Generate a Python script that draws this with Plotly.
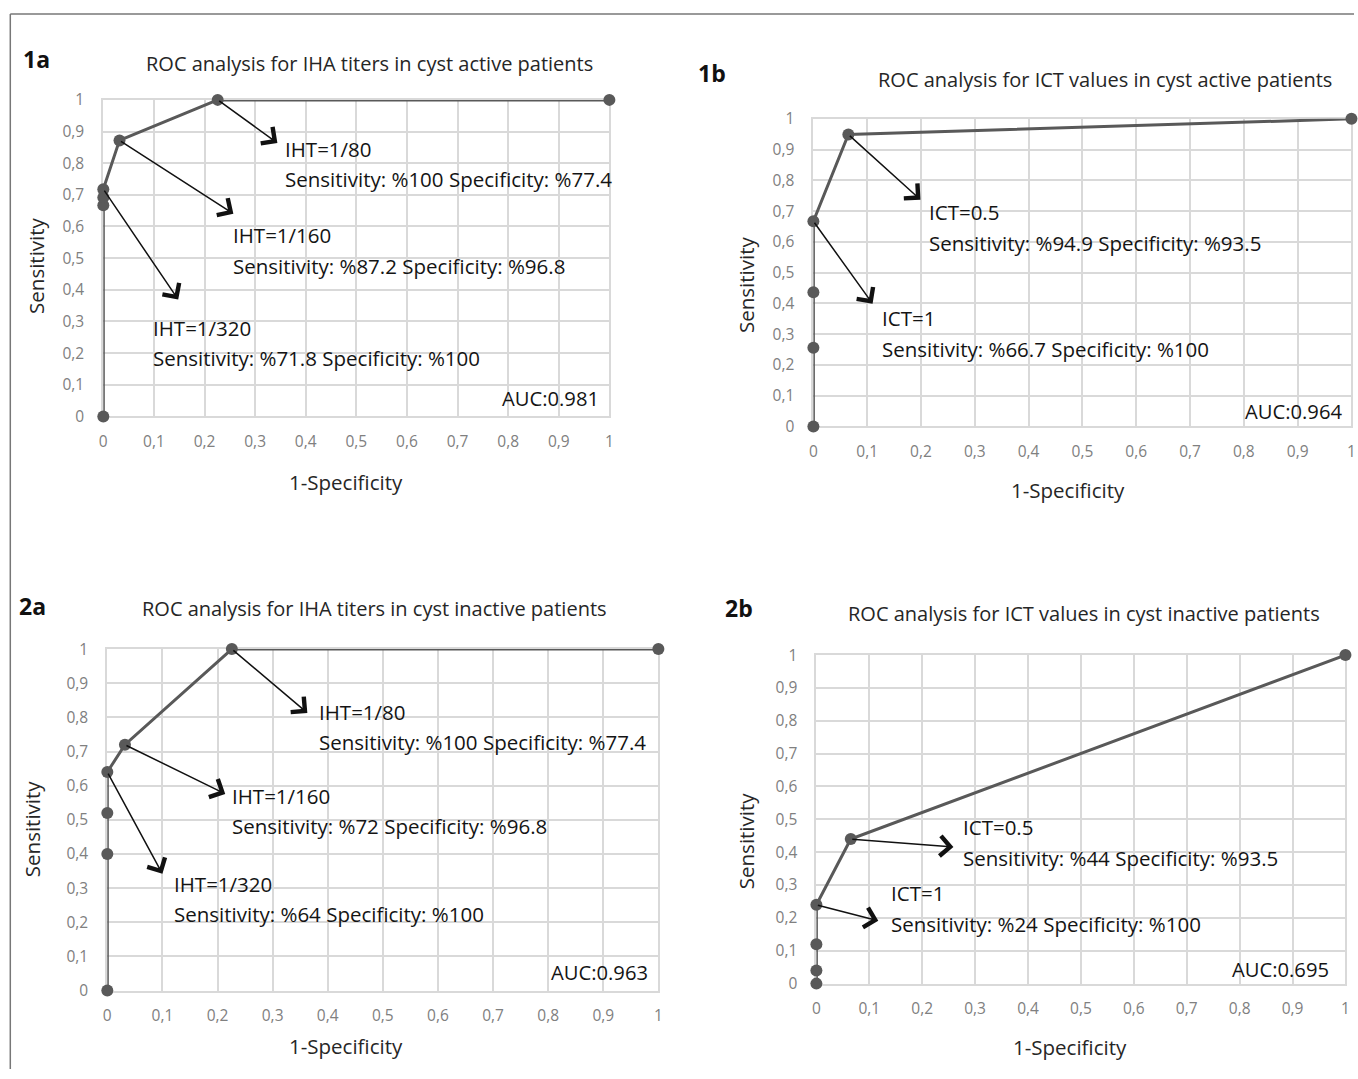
import plotly.graph_objects as go

W, H = 1358, 1079

# ROC points (1-Specificity, Sensitivity) for each panel
fpr_1a = [0, 0, 0, 0, 0.032, 0.226, 1]
tpr_1a = [0, 0.667, 0.692, 0.718, 0.872, 1, 1]
fpr_1b = [0, 0, 0, 0, 0.065, 1]
tpr_1b = [0, 0.256, 0.436, 0.667, 0.949, 1]
fpr_2a = [0, 0, 0, 0, 0.032, 0.226, 1]
tpr_2a = [0, 0.40, 0.52, 0.64, 0.72, 1, 1]
fpr_2b = [0, 0, 0, 0, 0.065, 1]
tpr_2b = [0, 0.04, 0.12, 0.24, 0.44, 1]

titles = [
    "ROC analysis for IHA titers in cyst active patients",
    "ROC analysis for ICT values in cyst active patients",
    "ROC analysis for IHA titers in cyst inactive patients",
    "ROC analysis for ICT values in cyst inactive patients",
]
panel_tags = ["1a", "1b", "2a", "2b"]
auc_labels = ["AUC:0.981", "AUC:0.964", "AUC:0.963", "AUC:0.695"]

# cut-off callouts: (index of labelled point, first line, second line)
cutoffs_1a = [(5, "IHT=1/80", "Sensitivity: %100 Specificity: %77.4"),
              (4, "IHT=1/160", "Sensitivity: %87.2 Specificity: %96.8"),
              (3, "IHT=1/320", "Sensitivity: %71.8 Specificity: %100")]
cutoffs_1b = [(4, "ICT=0.5", "Sensitivity: %94.9 Specificity: %93.5"),
              (3, "ICT=1", "Sensitivity: %66.7 Specificity: %100")]
cutoffs_2a = [(5, "IHT=1/80", "Sensitivity: %100 Specificity: %77.4"),
              (4, "IHT=1/160", "Sensitivity: %72 Specificity: %96.8"),
              (3, "IHT=1/320", "Sensitivity: %64 Specificity: %100")]
cutoffs_2b = [(4, "ICT=0.5", "Sensitivity: %44 Specificity: %93.5"),
              (3, "ICT=1", "Sensitivity: %24 Specificity: %100")]

tick_vals = [0, 0.1, 0.2, 0.3, 0.4, 0.5, 0.6, 0.7, 0.8, 0.9, 1]
tick_text = ["0", "0,1", "0,2", "0,3", "0,4", "0,5", "0,6", "0,7", "0,8", "0,9", "1"]

FONT = "Open Sans"
LINE = "#595959"
GRID = "#d9d9d9"
TICK = "#808080"
TEXT = "#141414"

# plot-area boxes in page pixels: left, right, top, bottom
boxes = [(103, 609, 98, 415), (813, 1351, 117, 425),
         (107, 658, 648, 990), (816, 1345, 654, 983)]

# label placement for each panel (page pixels); arrow heads in data units
panel_text = [
    dict(tag=(21, 57), title=(369, 62), ylab=(35, 264), xlab=(346, 481), auc=(601, 397),
         heads=[(0.344, 0.864), (0.257, 0.640), (0.148, 0.369)],
         txt=[(283, 147, 177), (231, 233, 264), (151, 326, 356)]),
    dict(tag=(696, 71), title=(1105, 78), ylab=(745, 283), xlab=(1068, 489), auc=(1344, 410),
         heads=[(0.199, 0.737), (0.110, 0.399)],
         txt=[(927, 210, 241), (880, 316, 347)]),
    dict(tag=(17, 605), title=(374, 607), ylab=(32, 828), xlab=(346, 1045), auc=(650, 971),
         heads=[(0.363, 0.813), (0.214, 0.576), (0.100, 0.342)],
         txt=[(317, 711, 741), (230, 795, 825), (172, 883, 913)]),
    dict(tag=(723, 607), title=(1084, 612), ylab=(745, 840), xlab=(1070, 1046), auc=(1331, 968),
         heads=[(0.259, 0.416), (0.117, 0.191)],
         txt=[(961, 826, 857), (889, 892, 923)]),
]

series = [(fpr_1a, tpr_1a, cutoffs_1a), (fpr_1b, tpr_1b, cutoffs_1b),
          (fpr_2a, tpr_2a, cutoffs_2a), (fpr_2b, tpr_2b, cutoffs_2b)]

# the figure is laid out slightly inset on the page; convert page pixels to paper fractions
OX, SXF = 3.7, 0.994
OY, SYF = 10.0, 0.981


def px(x):
    return (x - OX) / SXF / W


def py(y):
    return 1 - (y - OY) / SYF / H


fig = go.Figure()
annotations = []
layout = {}

for i, ((fx, ty, cuts), box, pt) in enumerate(zip(series, boxes, panel_text)):
    n = "" if i == 0 else str(i + 1)
    xa, ya = "x" + n, "y" + n
    l, r, t, b = box
    fig.add_trace(go.Scatter(
        x=fx, y=ty, xaxis=xa, yaxis=ya, mode="lines+markers",
        line=dict(color=LINE, width=3),
        marker=dict(color=LINE, size=12),
        cliponaxis=False, showlegend=False, hoverinfo="x+y"))

    axis_common = dict(range=[0, 1], tickvals=tick_vals, ticktext=tick_text,
                       showgrid=True, gridcolor=GRID, gridwidth=2,
                       showline=True, linecolor=GRID, linewidth=2, mirror=True,
                       zeroline=False, ticks="", layer="below traces",
                       tickfont=dict(family=FONT, size=15.5, color=TICK))
    layout["xaxis" + n] = dict(axis_common, domain=[px(l), px(r)], anchor=ya,
                               ticklabelstandoff=10)
    layout["yaxis" + n] = dict(axis_common, domain=[py(b), py(t)], anchor=xa,
                               ticklabelstandoff=14)

    # panel tag, title, axis titles, AUC
    annotations.append(dict(text="<b>%s</b>" % panel_tags[i], x=px(pt["tag"][0]), y=py(pt["tag"][1]),
                            xref="paper", yref="paper", xanchor="left", yanchor="middle",
                            showarrow=False, font=dict(family=FONT, size=23, color="#111111")))
    annotations.append(dict(text=titles[i], x=px(pt["title"][0]), y=py(pt["title"][1]),
                            xref="paper", yref="paper", xanchor="center", yanchor="middle",
                            showarrow=False, font=dict(family=FONT, size=20, color="#262626")))
    annotations.append(dict(text="Sensitivity", x=px(pt["ylab"][0]), y=py(pt["ylab"][1]),
                            xref="paper", yref="paper", xanchor="center", yanchor="middle",
                            textangle=-90, showarrow=False,
                            font=dict(family=FONT, size=20.5, color="#262626")))
    annotations.append(dict(text="1-Specificity", x=px(pt["xlab"][0]), y=py(pt["xlab"][1]),
                            xref="paper", yref="paper", xanchor="center", yanchor="middle",
                            showarrow=False, font=dict(family=FONT, size=20.5, color="#262626")))
    annotations.append(dict(text=auc_labels[i], x=px(pt["auc"][0]), y=py(pt["auc"][1]),
                            xref="paper", yref="paper", xanchor="right", yanchor="middle",
                            showarrow=False, font=dict(family=FONT, size=20.2, color=TEXT)))

    # callout arrows from the labelled cut-off points and their text
    for (idx, line1, line2), (hx, hy), (tx, ty1, ty2) in zip(cuts, pt["heads"], pt["txt"]):
        annotations.append(dict(text="", x=hx, y=hy, xref=xa, yref=ya,
                                ax=fx[idx], ay=ty[idx], axref=xa, ayref=ya,
                                showarrow=True, arrowhead=4, arrowsize=2.6,
                                arrowwidth=1.5, arrowcolor="#111111", standoff=0))
        annotations.append(dict(text=line1, x=px(tx), y=py(ty1), xref="paper", yref="paper",
                                xanchor="left", yanchor="middle", showarrow=False,
                                font=dict(family=FONT, size=20.5, color=TEXT)))
        annotations.append(dict(text=line2, x=px(tx), y=py(ty2), xref="paper", yref="paper",
                                xanchor="left", yanchor="middle", showarrow=False,
                                font=dict(family=FONT, size=20.5, color=TEXT)))

# outer frame (top and left edges)
shapes = [
    dict(type="line", xref="paper", yref="paper", x0=px(10), x1=1, y0=py(12), y1=py(12),
         line=dict(color="#777777", width=1.5)),
    dict(type="line", xref="paper", yref="paper", x0=px(10), x1=px(10), y0=py(12), y1=0,
         line=dict(color="#777777", width=1.5)),
]

fig.update_layout(
    width=W, height=H, margin=dict(l=0, r=0, t=0, b=0),
    paper_bgcolor="white", plot_bgcolor="white",
    annotations=annotations, shapes=shapes, **layout)

fig.write_html("out.html")
